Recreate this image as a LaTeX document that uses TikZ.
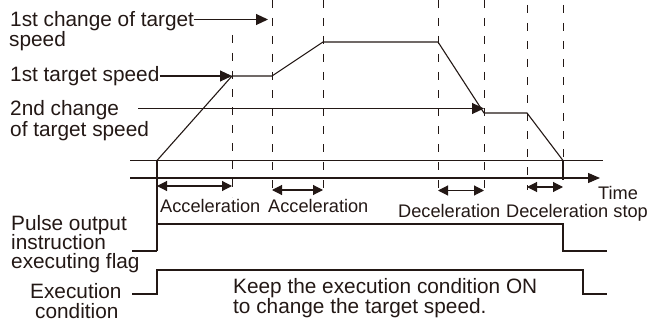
\documentclass[tikz,border=0pt]{standalone}
\usepackage{fontspec}
\setmainfont{Liberation Sans}
\usetikzlibrary{arrows.meta}
\definecolor{ink}{HTML}{231815}
\begin{document}
\begin{tikzpicture}[x=1pt,y=-1pt,
  big/.style={font=\fontsize{20.8}{20}\selectfont, inner sep=0pt, anchor=base west, text=ink},
  small/.style={font=\fontsize{18.2}{18}\selectfont, inner sep=0pt, anchor=base west, text=ink},
  guide/.style={draw=ink, line width=1pt, dash pattern=on 8pt off 10pt},
  sig/.style={draw=ink, line width=1.1pt},
  tip/.style={sig, -{Triangle[length=12pt,width=11pt]}},
  axis/.style={sig, -{Triangle[length=12pt,width=10pt]}},
  dbl/.style={sig, {Triangle[length=10pt,width=10pt]}-{Triangle[length=10pt,width=10pt]}}]
\useasboundingbox (0,0) rectangle (653,321);

% speed profile corners
\coordinate (s0) at (157,160.5);
\coordinate (s1) at (232,76);
\coordinate (s2) at (272,76);
\coordinate (s3) at (323,42);
\coordinate (s4) at (438,42);
\coordinate (s5) at (484,113);
\coordinate (s6) at (527,113);
\coordinate (s7) at (563,160.5);

% dashed guide lines
\draw[guide] (232,35) -- (232,197);
\draw[guide] (272,0) -- (272,193);
\draw[guide] (323,0) -- (323,188);
\draw[guide] (438,0) -- (438,188);
\draw[guide] (484,0) -- (484,188);
\draw[guide] (527,5) -- (527,190);
\draw[guide] (563,5) -- (563,160);

% baseline lines
\coordinate (hl) at (130,160.5);
\coordinate (hr) at (603,160.5);
\draw[sig] (hl) -- (hr);
\coordinate (tl) at (130,178);
\coordinate (tr) at (600,178);
\draw[axis] (tl) -- (tr);

% speed profile
\draw[sig] (s0) -- (s1) -- (s2) -- (s3) -- (s4) -- (s5) -- (s6) -- (s7);
\draw[sig] (s7) -- (563,180);

% left labels
\node[big] (c1) at (10,26.5) {1st change of target};
\node[big] (c1b) at (9,46.5) {speed};
\node[big] (t1) at (10,81.5) {1st target speed};
\node[big] (c2) at (10,115) {2nd change};
\node[big] (c2b) at (10,136) {of target speed};
\node[big] (p1) at (11,230) {Pulse output};
\node[big] (p2) at (11,249) {instruction};
\node[big] (p3) at (11,268) {executing flag};
\node[big] (e1) at (30,298) {Execution};
\node[big] (e2) at (35,318) {condition};
\node[big] (k1) at (233,293) {Keep the execution condition ON};
\node[big] (k2) at (233,313) {to change the target speed.};

% label arrows
\coordinate (a1) at (268,19.5);
\draw[tip] (c1.east |- a1) -- (a1);
\draw[tip] (t1.east |- s1) -- (s1);
\coordinate (a2) at (138,108.5);
\draw[tip] (a2) -- (a2 -| s5);

% vertical start marker
\coordinate (f0) at (132,251);
\draw[sig] (s0) -- (157,251);

% pulse output flag
\coordinate (fa) at (157,251);
\coordinate (fb) at (157,224);
\coordinate (fc) at (563,224);
\coordinate (fd) at (563,251);
\coordinate (fe) at (607,251);
\draw[sig] (f0) -- (fa);
\draw[sig] (fb) -- (fc) -- (fd) -- (fe);

% execution condition
\coordinate (x0) at (132,294);
\coordinate (xa) at (157,294);
\coordinate (xb) at (157,270);
\coordinate (xc) at (583,270);
\coordinate (xd) at (583,294);
\coordinate (xe) at (607,294);
\draw[sig] (x0) -- (xa) -- (xb) -- (xc) -- (xd) -- (xe);

% interval arrows
\draw[dbl] (157,186) -- (232,186);
\draw[dbl] (272,190) -- (323,190);
\draw[dbl] (438,190.5) -- (484,190.5);
\draw[dbl] (527,187) -- (563,187);

% interval labels
\node[small] (l1) at (160,212) {Acceleration};
\node[small] (l2) at (268,212) {Acceleration};
\node[small] (l3) at (398,217) {Deceleration};
\node[small] (l4) at (506,217) {Deceleration stop};
\node[small] (l5) at (598,199.5) {Time};
\end{tikzpicture}
\end{document}
